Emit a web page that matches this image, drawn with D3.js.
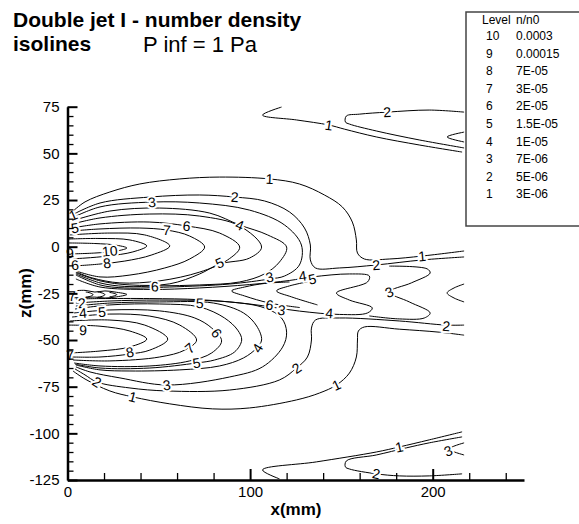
<!DOCTYPE html>
<html>
<head>
<meta charset="utf-8">
<script src="https://cdnjs.cloudflare.com/ajax/libs/d3/7.8.5/d3.min.js"></script>
<style>
  body { margin: 0; background: #fff; }
  svg text { font-family: "Liberation Sans", Arial, Helvetica, sans-serif; }
</style>
</head>
<body>
<svg id="chart" width="579" height="524"></svg>
<script>
// axis ticks
var xMajor = [0, 100, 200];
var xMinor = [20, 40, 60, 80, 120, 140, 160, 180, 220, 240];
var zMajor = [75, 50, 25, 0, -25, -50, -75, -100, -125];
var zMinor = [70, 65, 60, 55, 45, 40, 35, 30, 20, 15, 10, 5, -5, -10, -15, -20, -30, -35, -40, -45,
              -55, -60, -65, -70, -80, -85, -90, -95, -105, -110, -115, -120];

// legend
var legendLevels = [10, 9, 8, 7, 6, 5, 4, 3, 2, 1];
var legendValues = ["0.0003", "0.00015", "7E-05", "3E-05", "2E-05", "1.5E-05", "1E-05", "7E-06", "5E-06", "3E-06"];

// isolines, [x mm, z mm]
// upper jet
var u10 = [[0.3,2],[15,1.7],[26,0.9],[32.5,-0.7],[27,-2.3],[15,-3.4],[0.3,-3.9]];
var u9 = [[0.3,4.1],[17.8,4.4],[34.2,3.6],[43.4,0.4],[35.8,-2.8],[22.1,-5],[9.6,-6.1],[0.3,-6.6]];
var u8 = [[1.4,6.3],[23.2,7.3],[42.3,6.3],[56,0.4],[46.2,-4.4],[31.4,-7.7],[17.8,-9.3],[4.1,-10.3]];
var u7 = [[2.5,8.4],[17.8,9.5],[39.6,10],[54.4,8.9],[66.9,5.7],[75.1,-0.2],[66.9,-6.6],[53.3,-11.4],[34.2,-15.2],[17.8,-16.2],[4.6,-13]];
var u6 = [[2.5,10],[17.8,12.2],[45.1,13.2],[65.3,11.1],[83.3,7.3],[94.3,-0.2],[87.7,-7.1],[72.4,-13.6],[50.5,-18.3],[28.7,-19.4],[13.4,-16.7],[4.6,-13.5]];
var u5 = [[2.5,12.1],[17.8,15.4],[45.1,17.5],[72.4,16.4],[94.3,11.1],[106.3,-0.2],[99.7,-6.1],[83.3,-9.3],[72.4,-14.6],[56,-19.9],[34.2,-20.5],[17.8,-18.3],[4.6,-14]];
var u4 = [[2.5,13.8],[23.2,19.1],[50.5,20.7],[77.9,18],[94.3,11.6],[109.6,6.3],[120,-0.2],[116.1,-8.2],[107.9,-14.6],[94.3,-18.9],[72.4,-20.5],[50.5,-21],[31.4,-21.3],[17.8,-19.4],[4.6,-14.6]];
var u3 = [[2.5,15.4],[17.8,21.3],[46.2,23.9],[72.4,23.4],[99.7,19.6],[118.9,11.6],[128.1,0.9],[127,-9.8],[118.9,-15.7],[110.7,-17.3],[88.8,-20],[56,-21.6],[31.4,-22.1],[17.8,-20.5],[4.6,-15.2]];
var u2 = [[2.5,17],[17.8,23.4],[45.1,26.6],[72.4,27.7],[91.5,26.6],[107.9,24.5],[121.6,18.6],[129.8,10],[133,0.9],[133,-7.1],[135.8,-11.4],[148.9,-11.4],[169.1,-9.8],[194.3,-7.1],[217.2,-5.5]];
var u1 = [[2.5,18.6],[9.6,24],[23.2,29.3],[39.6,33.6],[61.5,36.3],[83.3,37.3],[110.7,36.3],[127,33.6],[140.7,27.7],[150.5,21.3],[156,13.2],[158.2,3.6],[158.8,-3.4],[162.6,-6.6],[176.2,-6.6],[194.3,-5],[217.2,-2.3]];

// sheet between the jets
var s4 = [[4.6,-17.3],[17.8,-21.6],[45.1,-22.9],[72.4,-22.1],[99.7,-20.3],[121.6,-18.1],[134.1,-16.2],[154.4,-14.6],[165.3,-15.7],[164.3,-18.9],[147.3,-24.8],[154.4,-28.6],[166.9,-32.8],[164.3,-35.5],[148.9,-36.3],[127,-34.5],[99.7,-30.7],[72.4,-28.4],[45.1,-27.8],[17.8,-27.8],[4.6,-28]];
var w6 = [[121.6,-18.9],[107.9,-19.7],[97,-21.6],[89.9,-23.7],[97,-26.4],[110.7,-30.2],[127.2,-32.6]];
var w5 = [[136.9,-17.8],[121.6,-21],[114.5,-23.7],[122.7,-26.9],[136.9,-31.2]];
var w3 = [[176.2,-10.4],[197,-11.9],[198.6,-14.1],[188.3,-19.4],[176.2,-24.3],[187.2,-29.6],[198.6,-35.5],[195.4,-38.2],[181.7,-38.7],[165.3,-37.1]];
var wr = [[217.2,-20],[211.7,-22.1],[207.9,-24.8],[211.7,-27.5],[217.2,-29.6]];
var d7 = [[2.5,-23.7],[9.6,-23.4],[15,-24.3],[20.5,-23.7],[26,-24.3],[32.5,-25.6],[26,-27],[20.5,-27.5],[15,-27],[9.6,-27.2],[2.5,-27.4]];
var d8a = [[10,-24.3],[12.5,-24.8],[14,-25.7],[12.5,-26.6],[10,-27]];
var d8b = [[16.5,-24.3],[19,-24.8],[20.5,-25.7],[19,-26.6],[16.5,-27]];
var d8c = [[23,-24.5],[25.5,-25],[27,-25.7],[25.5,-26.4],[23,-26.9]];

// lower jet
var l9 = [[0.3,-42],[17.8,-42.6],[34.2,-45.2],[43.4,-49.5],[34.2,-53.7],[17.8,-55.9],[0.3,-57]];
var l8 = [[1.4,-39.8],[23.2,-39.3],[42.3,-42],[54.9,-49.5],[45.1,-55.4],[34.2,-57.5],[17.8,-59.1],[2.5,-59.1]];
var l7 = [[2.5,-37.7],[23.2,-36.1],[45.1,-37.2],[61.5,-42],[70.7,-50],[64.2,-55.4],[50.5,-59.1],[23.2,-61.2],[3,-60.7]];
var l6 = [[3.6,-35.5],[23.2,-33.9],[50.5,-34.4],[69.7,-38.2],[79,-43.6],[84.4,-50.5],[79,-56.9],[66.9,-61.2],[45.1,-63.9],[17.8,-63.9],[3.6,-62.3]];
var l5 = [[4.1,-33.4],[23.2,-31.2],[50.5,-30.7],[72.4,-32.3],[86,-38.2],[93.2,-44.7],[95.4,-50],[91.5,-56.4],[80.6,-60.7],[70.7,-62.3],[45.1,-65],[17.8,-65],[4.1,-62.9]];
var l4 = [[4.6,-31.8],[23.2,-30.2],[50.5,-29.6],[80,-30.2],[96.4,-35.5],[103.6,-42.5],[106.3,-50],[103.6,-54.3],[96.4,-59.6],[83.3,-63.9],[61.5,-66],[34.2,-66.6],[17.8,-66],[4.6,-63.4]];
var l3 = [[4.6,-30.2],[23.2,-29.1],[50.5,-28.6],[88.8,-29.6],[107.9,-32.8],[117.2,-38.2],[120,-45.8],[117.8,-53.8],[106.8,-64.4],[88.8,-69.8],[54.4,-74.1],[28.7,-70.3],[12.3,-67.1],[4.6,-64.4]];
var l2 = [[4.1,-65.5],[9.6,-68.7],[16.1,-72.5],[34.2,-75.7],[54.4,-77.3],[88.8,-76.8],[116.1,-71.4],[125.4,-65],[131.4,-59.1],[133.6,-50],[133.6,-43.6],[135.8,-39.3],[148.9,-38.2],[181.7,-39.8],[207.4,-42],[217.2,-42]];
var l1 = [[3,-66.6],[9.6,-70.9],[23.2,-77.3],[35.8,-80.5],[56,-84.2],[79.5,-86.9],[99.7,-86.4],[125.4,-82.1],[138,-78.4],[147.3,-74.1],[154.4,-67.7],[158.2,-59.1],[158.8,-50],[159.3,-45.2],[162.6,-43],[181.7,-44.2],[203.6,-45.8],[217.2,-47.4]];

// far field, top and bottom
var t1 = [[117.2,74.8],[106.8,70.5],[125.4,67.9],[143.1,65.2],[151.6,63],[169.1,58.8],[192.6,54.5],[216.1,50.7]];
var t2 = [[217.2,72.1],[198.1,73.2],[175.1,72.1],[159.8,71],[152.7,70],[152.2,66.8],[154.4,65.7],[169.1,62],[192.6,57.2],[217.2,52.9]];
var t3 = [[217.2,61.4],[207.9,58.8],[217.2,56.1]];
var b1 = [[116.1,-124.4],[106.8,-119.6],[136.3,-115.3],[169.1,-110],[181.7,-107.3],[198.1,-103.5],[216.1,-99.2]];
var b2 = [[216.1,-101.9],[198.1,-105.1],[185.5,-107.8],[169.1,-111.6],[152.7,-114.8],[152.2,-118],[154.4,-119.1],[169.1,-121.7],[181.7,-122.8],[198.1,-122.8],[216.1,-121.7]];
var b3 = [[217.2,-105.1],[209,-108.4],[217.2,-111.6]];

var isolines = [[10,u10],[9,u9],[8,u8],[7,u7],[6,u6],[5,u5],[4,u4],[3,u3],[2,u2],[1,u1],
                [4,s4],[6,w6],[5,w5],[3,w3],[3,wr],[7,d7],[8,d8a],[8,d8b],[8,d8c],
                [9,l9],[8,l8],[7,l7],[6,l6],[5,l5],[4,l4],[3,l3],[2,l2],[1,l1],
                [1,t1],[2,t2],[3,t3],[1,b1],[2,b2],[3,b3]];

// contour labels [level, x mm, z mm]
var lineLabels = [
  [1,3,17],[5,4.1,10],[9,1.4,-3.4],[6,4.1,-9.8],[10,23.2,-2.3],[8,21.6,-8.7],[7,54.4,8.9],[6,65.3,11.1],
  [4,94.3,11.6],[5,83.3,-8.7],[3,46.2,23.9],[2,91.5,26.6],[1,110.7,36.3],
  [6,47.8,-21.3],[7,2.5,-26.4],[5,72.4,-30.2],[2,7.9,-30.2],[4,8.5,-35.5],[5,18.9,-35],[3,110.7,-16.2],
  [4,128.7,-15.7],[5,134.1,-17.3],[6,110.7,-31.2],[3,117.2,-33.9],[4,143.4,-35.5],[2,169.1,-9.8],
  [1,194.3,-5],[3,176.2,-24.3],[2,207.4,-42.5],
  [9,8.5,-44.7],[8,34.2,-56.4],[7,66.9,-54.3],[6,81.7,-46.3],[5,70.7,-62.3],[4,104.1,-54.3],[7,1.4,-58],
  [3,54.4,-74.1],[2,16.1,-72.5],[2,125.4,-65],[1,35.8,-80.5],[1,147.3,-74.1],
  [1,143.1,65.2],[2,175.1,72.1],[1,181.7,-107.3],[2,169.1,-121.7],[3,208.5,-109.4]
];

var svg = d3.select("#chart");

var x = d3.scaleLinear().domain([0, 250]).range([67.5, 524]);
var y = d3.scaleLinear().domain([-125, 75]).range([480, 106.7]);

var line = d3.line()
    .x(function(d) { return x(d[0]); })
    .y(function(d) { return y(d[1]); })
    .curve(d3.curveCatmullRom.alpha(0.5));

var plot = svg.append("g");

plot.selectAll(".iso")
    .data(isolines)
  .enter().append("path")
    .attr("class", "iso")
    .attr("fill", "none")
    .attr("stroke", "#000")
    .attr("stroke-width", 1)
    .attr("d", function(d) { return line(d[1]); });

// rotate each label along the closest line
function labelAngle(px, py) {
  var best = 0, bd = Infinity;
  isolines.forEach(function(iso) {
    var p = iso[1].map(function(d) { return [x(d[0]), y(d[1])]; });
    for (var i = 0; i < p.length - 1; i++) {
      var ax = p[i][0], ay = p[i][1], dx = p[i+1][0] - ax, dy = p[i+1][1] - ay;
      var L = dx*dx + dy*dy;
      var t = L ? Math.max(0, Math.min(1, ((px-ax)*dx + (py-ay)*dy) / L)) : 0;
      var cx = ax + t*dx, cy = ay + t*dy;
      var dd = (px-cx)*(px-cx) + (py-cy)*(py-cy);
      if (dd < bd) { bd = dd; best = Math.atan2(dy, dx) * 180 / Math.PI; }
    }
  });
  if (best > 90) best -= 180;
  if (best < -90) best += 180;
  return bd < 100 ? best : 0;
}

plot.selectAll(".lbl")
    .data(lineLabels)
  .enter().append("text")
    .attr("class", "lbl")
    .attr("transform", function(d) {
      var px = x(d[1]), py = y(d[2]);
      return "translate(" + px + "," + py + ") rotate(" + labelAngle(px, py) + ")";
    })
    .attr("text-anchor", "middle")
    .attr("dy", "0.36em")
    .attr("font-size", 14)
    .attr("fill", "#000")
    .attr("stroke", "#fff")
    .attr("stroke-width", 4)
    .attr("paint-order", "stroke")
    .text(function(d) { return d[0]; });

// axes, ticks pointing inward
function styleAxis(g, w) {
  g.selectAll(".tick line").attr("stroke", "#000").attr("stroke-width", w);
  g.selectAll("text").attr("font-size", 15).attr("fill", "#000")
      .attr("font-family", "Liberation Sans, Arial, sans-serif");
}
var plainNum = function(d) { return String(d); };

svg.append("g")
    .attr("transform", "translate(0,480)")
    .call(d3.axisBottom(x).tickValues(xMinor).tickSize(-7).tickFormat(""))
    .call(function(g) { g.select(".domain").remove(); styleAxis(g, 1.3); });

svg.append("g")
    .attr("transform", "translate(0,480)")
    .call(d3.axisBottom(x).tickValues(xMajor).tickFormat(plainNum)
          .tickSizeInner(-11).tickSizeOuter(0).tickPadding(6))
    .call(function(g) {
      g.select(".domain").attr("stroke", "#000").attr("stroke-width", 2.5);
      styleAxis(g, 2);
    });

svg.append("g")
    .attr("transform", "translate(67.5,0)")
    .call(d3.axisLeft(y).tickValues(zMinor).tickSize(-6).tickFormat(""))
    .call(function(g) { g.select(".domain").remove(); styleAxis(g, 1.3); });

svg.append("g")
    .attr("transform", "translate(67.5,0)")
    .call(d3.axisLeft(y).tickValues(zMajor).tickFormat(plainNum)
          .tickSizeInner(-10).tickSizeOuter(0).tickPadding(8))
    .call(function(g) {
      g.select(".domain").attr("stroke", "#000").attr("stroke-width", 2.5);
      styleAxis(g, 2);
    });

svg.append("text")
    .attr("x", 296).attr("y", 515)
    .attr("text-anchor", "middle")
    .attr("font-size", 17).attr("font-weight", "bold")
    .text("x(mm)");

svg.append("text")
    .attr("transform", "translate(31,293) rotate(-90)")
    .attr("text-anchor", "middle")
    .attr("font-size", 17).attr("font-weight", "bold")
    .text("z(mm)");

// title
svg.append("text").attr("x", 13).attr("y", 27)
    .attr("font-size", 21).attr("font-weight", "bold")
    .text("Double jet I - number density");
svg.append("text").attr("x", 13).attr("y", 51)
    .attr("font-size", 21).attr("font-weight", "bold")
    .text("isolines");
svg.append("text").attr("x", 143).attr("y", 52)
    .attr("font-size", 22)
    .text("P inf = 1 Pa");

// legend
var legend = svg.append("g");
legend.append("rect")
    .attr("x", 466).attr("y", 12).attr("width", 130).attr("height", 214)
    .attr("fill", "#fff").attr("stroke", "#444").attr("stroke-width", 1.5);
legend.append("text").attr("x", 482).attr("y", 24).attr("font-size", 12).text("Level");
legend.append("text").attr("x", 516).attr("y", 24).attr("font-size", 12).text("n/n0");
legend.selectAll(".lv")
    .data(legendLevels)
  .enter().append("text")
    .attr("class", "lv")
    .attr("x", 486)
    .attr("y", function(d, i) { return 40 + i * 17.6; })
    .attr("font-size", 12)
    .text(function(d) { return d; });
legend.selectAll(".vv")
    .data(legendValues)
  .enter().append("text")
    .attr("class", "vv")
    .attr("x", 516)
    .attr("y", function(d, i) { return 40 + i * 17.6; })
    .attr("font-size", 12)
    .text(function(d) { return d; });
</script>
</body>
</html>
